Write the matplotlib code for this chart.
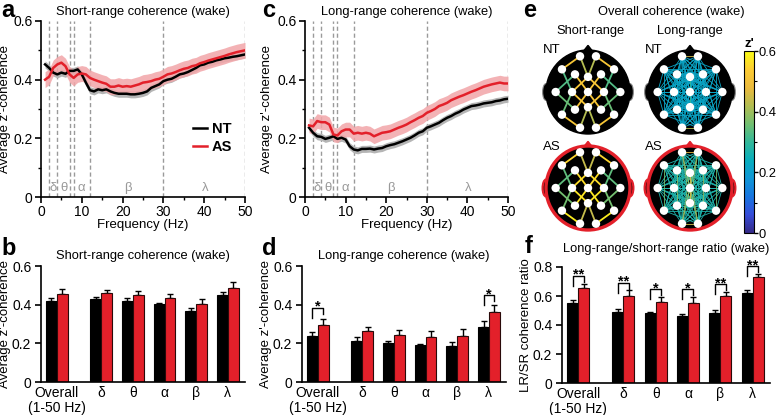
import numpy as np
import matplotlib
matplotlib.use('Agg')
import matplotlib.pyplot as plt
from matplotlib.colors import LinearSegmentedColormap, Normalize
from matplotlib.patches import Circle, Ellipse, Polygon
from matplotlib.cm import ScalarMappable
from matplotlib.ticker import MultipleLocator

plt.rcParams['font.family'] = ['Liberation Sans', 'DejaVu Sans']
plt.rcParams['font.size'] = 9

RED = '#e3202a'
GREY = '#9a9a9a'

# --- spectra (1-50 Hz) ---
FREQ = list(range(1, 51))
SR_NT = [0.452, 0.44, 0.424, 0.418, 0.424, 0.42, 0.43, 0.43, 0.435, 0.418,
         0.39, 0.364, 0.36, 0.367, 0.364, 0.367, 0.36, 0.355, 0.352, 0.352,
         0.352, 0.35, 0.35, 0.352, 0.355, 0.36, 0.372, 0.378, 0.384, 0.395,
         0.40, 0.403, 0.41, 0.418, 0.421, 0.426, 0.433, 0.44, 0.449, 0.452,
         0.458, 0.461, 0.466, 0.469, 0.473, 0.475, 0.478, 0.48, 0.483, 0.486]
SR_AS = [0.40, 0.41, 0.44, 0.452, 0.458, 0.446, 0.418, 0.406, 0.418, 0.421,
         0.418, 0.406, 0.40, 0.395, 0.39, 0.386, 0.376, 0.376, 0.38, 0.376,
         0.378, 0.376, 0.38, 0.384, 0.39, 0.392, 0.395, 0.40, 0.403, 0.41,
         0.418, 0.421, 0.426, 0.432, 0.437, 0.44, 0.446, 0.449, 0.456, 0.46,
         0.465, 0.469, 0.473, 0.477, 0.481, 0.486, 0.49, 0.494, 0.497, 0.50]
LR_NT = [0.236, 0.219, 0.207, 0.205, 0.198, 0.202, 0.207, 0.198, 0.202, 0.196,
         0.173, 0.162, 0.159, 0.164, 0.164, 0.165, 0.162, 0.165, 0.167, 0.173,
         0.177, 0.18, 0.185, 0.19, 0.196, 0.202, 0.21, 0.219, 0.224, 0.236,
         0.241, 0.247, 0.253, 0.262, 0.27, 0.276, 0.284, 0.29, 0.298, 0.304,
         0.31, 0.312, 0.315, 0.319, 0.321, 0.323, 0.327, 0.329, 0.333, 0.335]
LR_AS = [0.244, 0.241, 0.259, 0.255, 0.255, 0.247, 0.213, 0.21, 0.224, 0.23,
         0.23, 0.216, 0.219, 0.216, 0.219, 0.216, 0.207, 0.213, 0.219, 0.221,
         0.224, 0.23, 0.236, 0.241, 0.247, 0.255, 0.262, 0.27, 0.276, 0.287,
         0.293, 0.30, 0.31, 0.315, 0.321, 0.33, 0.336, 0.342, 0.347, 0.353,
         0.359, 0.364, 0.37, 0.376, 0.38, 0.384, 0.387, 0.39, 0.387, 0.387]
SEM_SR = {'NT': 0.012, 'AS': 0.027}
SEM_LR = {'NT': 0.012, 'AS': 0.025}
BAND_EDGES = [2, 4, 7, 8, 12, 30, 50]
BAND_NAMES = ['δ', 'θ', 'α', 'β', 'λ']
BAND_LABEL_X = [3.0, 5.7, 9.9, 21.2, 40.3]

# --- band averages ---
BAR_LABELS = ['Overall\n(1-50 Hz)', 'δ', 'θ', 'α', 'β', 'λ']
BAR_POS = [0, 1.4, 2.4, 3.4, 4.4, 5.4]
SRB_NT = [0.419, 0.429, 0.420, 0.401, 0.367, 0.448]
SRB_NT_ERR = [0.017, 0.010, 0.012, 0.010, 0.017, 0.019]
SRB_AS = [0.457, 0.458, 0.452, 0.433, 0.403, 0.488]
SRB_AS_ERR = [0.022, 0.020, 0.020, 0.020, 0.028, 0.028]
LRB_NT = [0.237, 0.211, 0.202, 0.189, 0.185, 0.286]
LRB_NT_ERR = [0.020, 0.021, 0.012, 0.008, 0.021, 0.028]
LRB_AS = [0.297, 0.266, 0.245, 0.233, 0.240, 0.360]
LRB_AS_ERR = [0.029, 0.020, 0.022, 0.029, 0.033, 0.038]
RATIO_NT = [0.550, 0.492, 0.481, 0.465, 0.481, 0.620]
RATIO_NT_ERR = [0.019, 0.019, 0.011, 0.011, 0.023, 0.018]
RATIO_AS = [0.654, 0.603, 0.562, 0.555, 0.597, 0.731]
RATIO_AS_ERR = [0.030, 0.035, 0.030, 0.035, 0.030, 0.023]
SIG_LR = [(0, '*', 0.383), (5, '*', 0.449)]
SIG_RATIO = [(0, '**', 0.74), (1, '**', 0.69), (2, '*', 0.647),
             (3, '*', 0.647), (4, '**', 0.682), (5, '**', 0.805)]

# --- scalp maps ---
ELEC = {'Fp1': (-0.19, 0.85), 'Fp2': (0.19, 0.85),
        'F7': (-0.62, 0.54), 'F3': (-0.31, 0.42), 'Fz': (0.0, 0.36),
        'F4': (0.31, 0.42), 'F8': (0.62, 0.54),
        'T3': (-0.77, 0.0), 'C3': (-0.38, 0.0), 'Cz': (0.0, 0.0),
        'C4': (0.38, 0.0), 'T4': (0.77, 0.0),
        'T5': (-0.62, -0.54), 'P3': (-0.31, -0.42), 'Pz': (0.0, -0.36),
        'P4': (0.31, -0.42), 'T6': (0.62, -0.54),
        'O1': (-0.19, -0.85), 'O2': (0.19, -0.85)}
SR_PAIRS = [('Fp1', 'F7'), ('Fp2', 'F8'), ('Fp1', 'Fz'), ('Fp2', 'Fz'),
            ('F7', 'C3'), ('F3', 'T3'), ('F8', 'C4'), ('F4', 'T4'),
            ('F3', 'Cz'), ('Fz', 'C3'), ('Fz', 'C4'), ('F4', 'Cz'),
            ('C3', 'Pz'), ('Cz', 'P3'), ('Cz', 'P4'), ('C4', 'Pz'),
            ('T3', 'P3'), ('C3', 'T5'), ('T4', 'P4'), ('C4', 'T6'),
            ('T5', 'O1'), ('T6', 'O2'), ('O1', 'Pz'), ('O2', 'Pz')]
SR_MAP_NT = [0.52, 0.52, 0.42, 0.42, 0.33, 0.33, 0.33, 0.33,
             0.52, 0.52, 0.52, 0.52, 0.52, 0.52, 0.52, 0.52,
             0.35, 0.35, 0.35, 0.35, 0.52, 0.52, 0.42, 0.42]
SR_MAP_AS = [0.55, 0.55, 0.44, 0.44, 0.34, 0.34, 0.34, 0.34,
             0.56, 0.56, 0.56, 0.56, 0.57, 0.57, 0.57, 0.57,
             0.36, 0.36, 0.36, 0.36, 0.58, 0.58, 0.44, 0.44]
LR_BASE_NT = 0.22
LR_BASE_AS = 0.27
LR_HIGH_NT = {('Fp1', 'Fp2'): 0.45, ('O1', 'O2'): 0.42, ('Fz', 'Pz'): 0.30}
LR_HIGH_AS = {('Fp1', 'Fp2'): 0.48, ('O1', 'O2'): 0.45, ('Fz', 'Pz'): 0.47,
              ('Fp1', 'Cz'): 0.40, ('Fp2', 'Cz'): 0.40, ('Cz', 'O1'): 0.40,
              ('Cz', 'O2'): 0.40, ('F3', 'P3'): 0.38, ('F4', 'P4'): 0.38,
              ('Fp1', 'Pz'): 0.38, ('Fp2', 'Pz'): 0.38, ('Fz', 'O1'): 0.38,
              ('Fz', 'O2'): 0.38, ('F7', 'T5'): 0.36, ('F8', 'T6'): 0.36}

PARULA = LinearSegmentedColormap.from_list('parula', [
    (0.208, 0.166, 0.529), (0.212, 0.300, 0.850), (0.090, 0.460, 0.880),
    (0.060, 0.590, 0.840), (0.030, 0.680, 0.740), (0.200, 0.720, 0.600),
    (0.450, 0.750, 0.440), (0.700, 0.740, 0.320), (0.920, 0.730, 0.240),
    (0.990, 0.800, 0.200), (0.976, 0.984, 0.081)])
NORM = Normalize(0, 0.6)

TICK_FS = 10
LABEL_FS = 9.5
TITLE_FS = 9.3


def px_axes(fig, left, right, top, bottom):
    W, H = 778, 415
    return fig.add_axes([left / W, 1 - bottom / H, (right - left) / W, (bottom - top) / H])


def style_axes(ax):
    for s in ('top', 'right'):
        ax.spines[s].set_visible(False)
    for s in ('left', 'bottom'):
        ax.spines[s].set_linewidth(1.2)
    ax.tick_params(direction='out', length=4, width=1.2, labelsize=TICK_FS, pad=2)
    ax.tick_params(which='minor', direction='out', length=2.5, width=1.0)


def spectrum_panel(ax, nt, as_, sem, title, legend=False):
    for e in BAND_EDGES:
        ax.axvline(e, color=GREY, lw=1, ls=(0, (3, 2)), zorder=1)
    for x, name in zip(BAND_LABEL_X, BAND_NAMES):
        ax.text(x, 0.032, name, color=GREY, ha='center', va='center', fontsize=9.5)
    nt = np.array(nt)
    as_ = np.array(as_)
    ax.fill_between(FREQ, nt - sem['NT'], nt + sem['NT'], color='#b5b5b5', lw=0, zorder=2)
    ax.fill_between(FREQ, as_ - sem['AS'], as_ + sem['AS'], color='#f2a5a8', lw=0, alpha=0.85, zorder=2)
    ax.plot(FREQ, nt, color='k', lw=1.8, label='NT', zorder=3)
    ax.plot(FREQ, as_, color=RED, lw=1.8, label='AS', zorder=3)
    ax.set_xlim(0, 50)
    ax.set_ylim(0, 0.6)
    ax.set_xticks([0, 10, 20, 30, 40, 50])
    ax.xaxis.set_minor_locator(MultipleLocator(5))
    ax.set_yticks([0, 0.2, 0.4, 0.6])
    ax.set_yticklabels(['0', '0.2', '0.4', '0.6'])
    ax.yaxis.set_minor_locator(MultipleLocator(0.1))
    ax.set_xlabel('Frequency (Hz)', fontsize=LABEL_FS, labelpad=0)
    ax.set_ylabel("Average z'-coherence", fontsize=LABEL_FS)
    ax.set_title(title, fontsize=TITLE_FS, pad=4)
    style_axes(ax)
    if legend:
        ax.legend(loc='lower right', bbox_to_anchor=(1.0, 0.17), frameon=False,
                  handlelength=1.0, handletextpad=0.3, labelspacing=0.25,
                  prop={'size': 10.5, 'weight': 'bold'})


def bar_panel(ax, nt, nt_err, as_, as_err, ymax, yticks, ylabel, title, sig, title_pad=5):
    x = np.array(BAR_POS)
    w = 0.34
    zeros = np.zeros(len(x))
    ax.errorbar(x - w / 2, nt, yerr=[zeros, nt_err], fmt='none', ecolor='k',
                elinewidth=1, capsize=2.5, capthick=1, zorder=1)
    ax.errorbar(x + w / 2, as_, yerr=[zeros, as_err], fmt='none', ecolor='k',
                elinewidth=1, capsize=2.5, capthick=1, zorder=1)
    ax.bar(x - w / 2, nt, w, color='k', edgecolor='k', lw=0.8, zorder=2)
    ax.bar(x + w / 2, as_, w, color=RED, edgecolor='#2a0a0a', lw=0.8, zorder=2)
    for i, stars, top in sig:
        x0, x1 = x[i] - w / 2, x[i] + w / 2
        ax.plot([x0, x0, x1, x1], [top - 0.07 * ymax / 0.8, top, top, top - 0.04 * ymax / 0.8],
                color='k', lw=1, clip_on=False, zorder=3)
        ax.text((x0 + x1) / 2, top - 0.025 * ymax, stars, ha='center', va='baseline',
                fontsize=10.5, fontweight='bold', clip_on=False)
    ax.set_xlim(-0.5, 5.94)
    ax.set_ylim(0, ymax)
    ax.set_xticks(x)
    ax.set_xticklabels(BAR_LABELS, fontsize=TICK_FS, linespacing=1.05)
    ax.set_yticks(yticks)
    ax.set_yticklabels(['0'] + ['%.1f' % t for t in yticks[1:]])
    ax.set_ylabel(ylabel, fontsize=LABEL_FS)
    ax.set_title(title, fontsize=TITLE_FS, pad=title_pad)
    style_axes(ax)
    ax.tick_params(axis='x', length=0, pad=3)
    ax.tick_params(axis='y', pad=3)


def draw_head(ax, pairs, vals, lw, affected):
    ax.set_xlim(-1.25, 1.25)
    ax.set_ylim(-1.25, 1.25)
    ax.set_aspect('equal')
    ax.axis('off')
    edge = RED if affected else 'k'
    for sx in (-1, 1):
        ax.add_patch(Ellipse((sx * 1.0, 0), 0.16, 0.40, fc='k',
                             ec=RED if affected else '#8a8a8a', lw=1.6 if affected else 0.8))
    ax.add_patch(Polygon([[-0.11, 0.97], [0, 1.11], [0.11, 0.97]], closed=True,
                         fc=edge, ec=edge, lw=1))
    ax.add_patch(Circle((0, 0), 1.0, fc='k', ec=edge, lw=2.4 if affected else 1))
    for k in np.argsort(vals, kind='stable'):
        a, b = pairs[k]
        (xa, ya), (xb, yb) = ELEC[a], ELEC[b]
        ax.plot([xa, xb], [ya, yb], color=PARULA(NORM(vals[k])), lw=lw,
                solid_capstyle='butt', zorder=3)
    for xy in ELEC.values():
        ax.add_patch(Circle(xy, 0.1, fc='white', ec='none', zorder=5))


def long_range_pairs(base, high):
    names = list(ELEC)
    short = set(SR_PAIRS) | {(b, a) for a, b in SR_PAIRS}
    pairs, vals = [], []
    for i in range(len(names)):
        for j in range(i + 1, len(names)):
            p = (names[i], names[j])
            if p in short:
                continue
            pairs.append(p)
            vals.append(high.get(p, high.get((p[1], p[0]), base)))
    return pairs, vals


fig = plt.figure(figsize=(7.78, 4.15), dpi=100)

ax_a = px_axes(fig, 41, 245, 21, 197)
spectrum_panel(ax_a, SR_NT, SR_AS, SEM_SR, 'Short-range coherence (wake)', legend=True)
ax_a.yaxis.set_label_coords(-0.148, 0.5)

ax_c = px_axes(fig, 305, 508, 21, 197)
spectrum_panel(ax_c, LR_NT, LR_AS, SEM_LR, 'Long-range coherence (wake)')
ax_c.yaxis.set_label_coords(-0.16, 0.5)

ax_b = px_axes(fig, 41, 245, 266, 382)
bar_panel(ax_b, SRB_NT, SRB_NT_ERR, SRB_AS, SRB_AS_ERR, 0.6, [0, 0.2, 0.4, 0.6],
          "Average z'-coherence", 'Short-range coherence (wake)', [])
ax_b.yaxis.set_label_coords(-0.148, 0.5)

ax_d = px_axes(fig, 302, 506, 266, 382)
bar_panel(ax_d, LRB_NT, LRB_NT_ERR, LRB_AS, LRB_AS_ERR, 0.6, [0, 0.2, 0.4, 0.6],
          "Average z'-coherence", 'Long-range coherence (wake)', SIG_LR)
ax_d.yaxis.set_label_coords(-0.145, 0.5)

ax_f = px_axes(fig, 562, 770, 267, 383)
bar_panel(ax_f, RATIO_NT, RATIO_NT_ERR, RATIO_AS, RATIO_AS_ERR, 0.8, [0, 0.2, 0.4, 0.6, 0.8],
          'LR/SR coherence ratio', 'Long-range/short-range ratio (wake)', SIG_RATIO, title_pad=11)
ax_f.yaxis.set_label_coords(-0.142, 0.5)

# panel e: scalp maps
lr_nt_pairs, lr_nt_vals = long_range_pairs(LR_BASE_NT, LR_HIGH_NT)
lr_as_pairs, lr_as_vals = long_range_pairs(LR_BASE_AS, LR_HIGH_AS)
heads = [(588, 92, SR_PAIRS, SR_MAP_NT, 1.3, False),
         (588, 188, SR_PAIRS, SR_MAP_AS, 1.3, True),
         (690, 92, lr_nt_pairs, lr_nt_vals, 0.6, False),
         (690, 188, lr_as_pairs, lr_as_vals, 0.6, True)]
for cx, cy, pairs, vals, lw, affected in heads:
    r = 42 * 1.25
    hax = px_axes(fig, cx - r, cx + r, cy - r, cy + r)
    draw_head(hax, pairs, vals, lw, affected)

fig.text(671 / 778, 1 - 12 / 415, 'Overall coherence (wake)', ha='center', va='center', fontsize=TITLE_FS)
fig.text(590 / 778, 1 - 31 / 415, 'Short-range', ha='center', va='center', fontsize=TITLE_FS)
fig.text(690 / 778, 1 - 31 / 415, 'Long-range', ha='center', va='center', fontsize=TITLE_FS)
for x, y, s in [(543, 50, 'NT'), (645, 50, 'NT'), (543, 147, 'AS'), (645, 147, 'AS')]:
    fig.text(x / 778, 1 - y / 415, s, ha='left', va='center', fontsize=9.5)

cax = px_axes(fig, 744, 754, 51, 233)
cb = fig.colorbar(ScalarMappable(norm=NORM, cmap=PARULA), cax=cax)
cb.set_ticks([0, 0.2, 0.4, 0.6])
cb.set_ticklabels(['0', '0.2', '0.4', '0.6'])
cb.ax.yaxis.set_minor_locator(MultipleLocator(0.1))
cb.ax.tick_params(labelsize=9.3, length=3, width=1, pad=0.5)
cb.ax.tick_params(which='minor', length=2, width=0.8)
cb.outline.set_linewidth(0.8)
fig.text(749 / 778, 1 - 44 / 415, "z'", ha='center', va='center', fontsize=9.5, fontweight='bold')

# panel letters
for x, y, s in [(1, 17, 'a'), (1, 255, 'b'), (262, 17, 'c'), (262, 255, 'd'),
                (523, 17, 'e'), (525, 253, 'f')]:
    fig.text(x / 778, 1 - y / 415, s, ha='left', va='baseline', fontsize=17, fontweight='bold')

fig.savefig('out.png', dpi=100)
